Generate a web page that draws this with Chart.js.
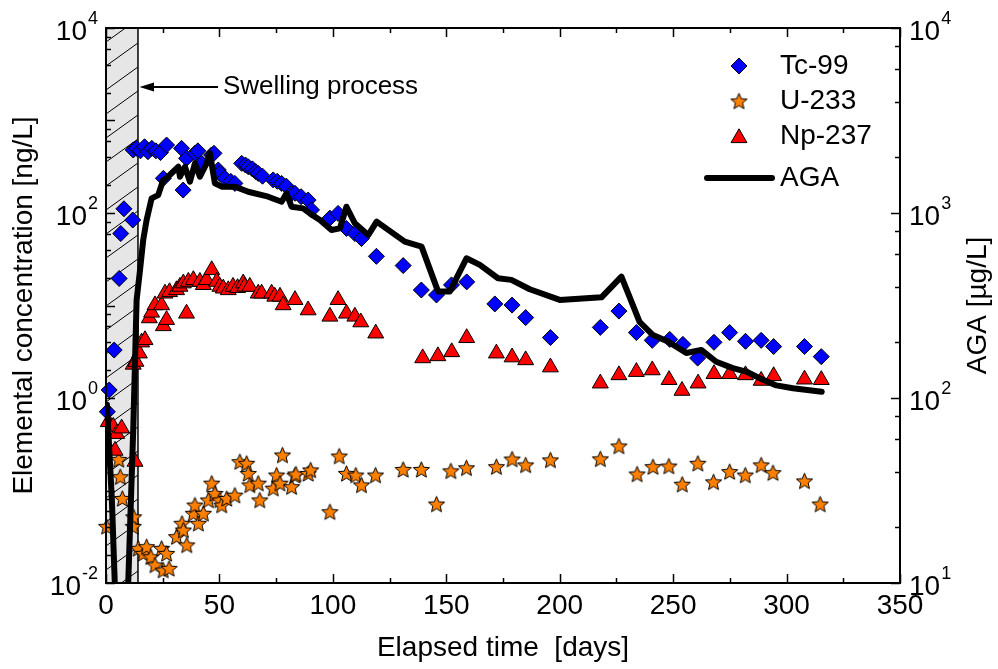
<!DOCTYPE html>
<html><head><meta charset="utf-8">
<script src="https://cdn.jsdelivr.net/npm/chart.js@4.4.1/dist/chart.umd.min.js"></script>
<style>html,body{margin:0;padding:0;background:#fff;}#wrap{width:998px;height:669px;}</style>
</head><body><div id="wrap"><canvas id="c" width="998" height="669"></canvas></div>
<script>
// ---------- data ----------
const tcDays = [0.6,1.4,3.6,5.8,6.5,7.9,11.8,12.0,13.5,15.2,17.0,18.5,20.2,22.0,24.0,25.3,26.7,33.3,34.0,35.5,39.2,40.5,42.2,46.5,47.6,49.5,50.2,52.4,55.0,56.8,59.8,61.5,62.7,64.5,66.0,67.1,69.0,73.7,75.5,77.4,79.5,81.8,83.3,86.0,89.1,90.6,98.7,102.3,106.0,109.7,112.6,119.2,131.0,139.0,145.7,152.3,159.0,171.4,179.0,185.0,195.9,217.9,226.1,233.8,240.8,248.5,254.3,260.8,268.0,274.9,281.9,288.8,294.3,307.9,315.3];
const tcVals = [0.71,1.22,3.3,19.6,60,111,84,480,500,470,520,460,500,470,450,237,543,500,177,390,442,470,344,424,442,292,268,237,220,209,344,330,316,300,280,268,250,228,220,209,195,163,163,150,138,108,88,99,68,60,53,34,27,14.7,13,16.7,18,10.4,10.1,7.4,4.5,5.8,8.7,5.1,4.2,4.3,3.8,2.7,4.0,5.1,4.1,4.2,3.6,3.6,2.8];

const uDays = [0.3,5.6,6.3,7.2,12.0,12.2,14.2,16.4,17.9,19.8,21.6,24.5,25.2,26.7,27.8,31.1,33.5,34.1,35.6,38.5,39.2,40.7,42.9,45.1,46.6,48.0,50.2,51.0,53.2,56.8,59.0,62.0,62.7,63.4,67.1,67.8,73.7,75.2,76.7,77.8,81.8,83.3,83.7,89.1,90.2,98.7,102.8,106.0,110.1,112.6,118.8,131.0,139.0,145.7,152.0,158.9,172.1,179.0,185.0,195.9,217.9,226.1,234.1,241.1,248.1,254.0,260.9,267.8,274.9,281.8,288.8,294.0,307.9,314.8];
const uVals = [0.041,0.217,0.141,0.082,0.041,0.052,0.0237,0.0209,0.0247,0.0192,0.0157,0.0237,0.0138,0.0209,0.0144,0.0317,0.0442,0.0374,0.0258,0.0567,0.0697,0.0442,0.0567,0.079,0.120,0.093,0.079,0.0697,0.082,0.089,0.205,0.197,0.153,0.115,0.120,0.079,0.106,0.147,0.120,0.242,0.110,0.146,0.151,0.153,0.167,0.059,0.236,0.153,0.147,0.115,0.147,0.169,0.169,0.0714,0.163,0.176,0.181,0.219,0.189,0.214,0.22,0.303,0.151,0.181,0.184,0.117,0.197,0.124,0.160,0.147,0.189,0.156,0.127,0.0714];

const npDays = [1.0,3.2,4.0,4.7,6.9,12.0,12.8,13.2,14.7,15.7,17.2,19.1,20.1,21.6,24.5,25.3,26.0,26.7,28.0,31.1,32.6,34.1,35.5,36.3,38.5,41.4,42.9,44.3,46.6,48.8,50.2,51.7,53.9,56.0,58.0,60.5,61.2,63.4,67.1,68.6,73.0,74.4,76.7,78.1,83.3,89.1,98.7,102.3,106.0,109.7,112.3,118.9,139.6,146.3,152.4,159.0,172.1,179.0,185.0,195.9,217.9,226.1,233.8,240.8,248.2,253.9,261.0,268.0,274.9,281.9,288.8,294.3,307.9,315.3];
const npVals = [0.55,0.49,0.27,0.41,0.47,2.3,0.205,2.47,3.04,4.0,4.24,7.3,8.4,10.1,10.1,6.0,13.5,7.0,14,14.7,16,17.4,8.2,18.1,18.9,18.1,16.7,18.9,24.2,18.1,16,15.3,14.7,16,15.5,17.4,16,16,13.5,13.5,13.5,12.5,12.5,10.1,11.5,8.9,7.6,11.5,8.2,7.6,6.6,5.0,2.7,2.84,3.14,4.46,3.04,2.76,2.57,2.15,1.44,1.77,1.92,2.0,1.57,1.2,1.44,1.82,1.82,1.77,1.54,1.73,1.59,1.57];

const agaDays = [0.4,2.6,4.5,8.5,9.8,12.0,13.5,15.0,16.4,17.9,20.1,23.0,25.2,26.7,28.9,30.4,31.9,32.6,34.8,37.0,39.2,41.4,44.4,45.8,48.0,51.0,56.8,62.7,71.5,77.4,79.6,81.8,86.9,89.9,94.3,99.4,103.1,106.0,109.7,115.6,119.3,131.7,139.1,146.4,151.5,158.9,164.8,172.8,178.7,186.8,200.0,218.4,227.2,235.2,241.1,247.7,255.8,262.4,269.0,276.3,282.2,288.1,295.5,302.8,315.5];
const agaVals = [92,28,6,6,10,67,339,492,714,917,1200,1250,1507,1545,1640,1708,1778,1570,1778,1476,1858,1570,1858,2104,1449,1388,1388,1303,1225,1151,1276,1081,1059,995,917,809,826,1081,879,760,898,700,658,376,376,569,524,444,435,387,339,350,453,258,219,202,175,182,157,145,139,128,117,113,108];

const xTickValues = [0,50,100,150,200,250,300,350];
const yLeftLabelExps = [-2,0,2,4];
const yRightLabelExps = [1,2,3,4];
const swellingEndDay = 14.1;
const seriesNames = ['Tc-99','U-233','Np-237','AGA'];
const xTitle = 'Elapsed time  [days]';
const yLeftTitle = 'Elemental concentration [ng/L]';
const yRightTitle = 'AGA [\u00b5g/L]';
const noteText = 'Swelling process';

// ---------- styles ----------
const FONT = '"Liberation Sans", Arial, sans-serif';
const C_TC = '#0000ff', C_U = '#ff8000', C_NP = '#ff0000';

function makeStar(R, fill) {
  const s = Math.ceil(R * 2 + 4);
  const cv = document.createElement('canvas');
  cv.width = s; cv.height = s;
  const g = cv.getContext('2d');
  const cx = s / 2, cy = s / 2 + 0.8, r = R * 0.45;
  g.beginPath();
  for (let i = 0; i < 10; i++) {
    const rad = (i % 2 === 0) ? R : r;
    const a = -Math.PI / 2 + i * Math.PI / 5;
    const px = cx + rad * Math.cos(a), py = cy + rad * Math.sin(a);
    if (i === 0) g.moveTo(px, py); else g.lineTo(px, py);
  }
  g.closePath();
  g.fillStyle = fill; g.fill();
  g.lineWidth = 1; g.strokeStyle = '#000'; g.lineJoin = 'miter'; g.stroke();
  return cv;
}
const starImg = makeStar(8.5, C_U);

const pts = (xs, ys) => xs.map((d, i) => ({x: d, y: ys[i]}));

function drawTen(ctx, exp, x, y, align) {
  const base = '28px ' + FONT, sup = '18px ' + FONT;
  ctx.font = base; const w10 = ctx.measureText('10').width;
  const es = (exp < 0 ? '-' : '') + Math.abs(exp);
  ctx.font = sup; const we = ctx.measureText(es).width;
  let x0 = align === 'right' ? x - w10 - we - 1 : x;
  ctx.textAlign = 'left'; ctx.textBaseline = 'middle';
  ctx.font = base; ctx.fillText('10', x0, y + 4);
  ctx.font = sup; ctx.fillText(es, x0 + w10 + 1, y - 9);
}

const decor = {
  id: 'decor',
  beforeDatasetsDraw(chart) {
    const {ctx, chartArea: a, scales} = chart;
    const x0 = scales.x.getPixelForValue(0), x1 = scales.x.getPixelForValue(swellingEndDay);
    ctx.save();
    ctx.fillStyle = '#e6e6e6';
    ctx.fillRect(x0, a.top, x1 - x0, a.bottom - a.top);
    ctx.beginPath(); ctx.rect(x0, a.top, x1 - x0, a.bottom - a.top); ctx.clip();
    ctx.strokeStyle = '#000'; ctx.lineWidth = 1;
    const w = x1 - x0, rise = w * 0.72;
    for (let y = a.top - 10; y < a.bottom + rise + 30; y += 24) {
      ctx.beginPath(); ctx.moveTo(x0, y); ctx.lineTo(x1, y - rise); ctx.stroke();
    }
    ctx.restore();
    ctx.save();
    ctx.strokeStyle = '#000'; ctx.lineWidth = 1.5;
    ctx.beginPath(); ctx.moveTo(x1, a.top); ctx.lineTo(x1, a.bottom); ctx.stroke();
    ctx.restore();
  },
  afterDatasetsDraw(chart) {
    const {ctx, chartArea: a, scales} = chart;
    const sx = scales.x, yl = scales.yL, yr = scales.yR;
    ctx.save();
    ctx.strokeStyle = '#000'; ctx.fillStyle = '#000';
    ctx.lineWidth = 2;
    ctx.strokeRect(a.left, a.top, a.right - a.left, a.bottom - a.top);
    ctx.lineWidth = 1.5;
    for (let v = 0; v <= 350; v += 25) {
      const px = Math.round(sx.getPixelForValue(v)) + 0.5;
      const L = (v % 50 === 0) ? 9 : 5;
      ctx.beginPath();
      ctx.moveTo(px, a.bottom); ctx.lineTo(px, a.bottom - L);
      ctx.moveTo(px, a.top); ctx.lineTo(px, a.top + L);
      ctx.stroke();
    }
    function yTicks(scale, eFrom, eTo, xEdge, dir) {
      for (let e = eFrom; e <= eTo; e++) {
        for (const k of [1, 2, 4, 6, 8]) {
          if (e === eTo && k > 1) continue;
          const py = Math.round(scale.getPixelForValue(k * Math.pow(10, e))) + 0.5;
          const L = k === 1 ? 9 : 5;
          ctx.beginPath(); ctx.moveTo(xEdge, py); ctx.lineTo(xEdge + dir * L, py); ctx.stroke();
        }
      }
    }
    yTicks(yl, -2, 4, a.left, 1);
    yTicks(yr, 1, 4, a.right, -1);
    ctx.font = '28px ' + FONT; ctx.textAlign = 'center'; ctx.textBaseline = 'middle';
    for (const v of xTickValues) ctx.fillText(String(v), sx.getPixelForValue(v), a.bottom + 23);
    for (const e of yLeftLabelExps) drawTen(ctx, e, a.left - 8, yl.getPixelForValue(Math.pow(10, e)), 'right');
    for (const e of yRightLabelExps) drawTen(ctx, e, a.right + 9, yr.getPixelForValue(Math.pow(10, e)), 'left');
    ctx.font = '28px ' + FONT; ctx.textAlign = 'center'; ctx.textBaseline = 'middle';
    ctx.fillText(xTitle, (a.left + a.right) / 2, 648);
    const cy = (a.top + a.bottom) / 2;
    ctx.save(); ctx.translate(24, cy); ctx.rotate(-Math.PI / 2); ctx.fillText(yLeftTitle, 0, 0); ctx.restore();
    ctx.save(); ctx.translate(978, cy); ctx.rotate(-Math.PI / 2); ctx.fillText(yRightTitle, 0, 0); ctx.restore();
    const xe = sx.getPixelForValue(swellingEndDay);
    const ay = 87;
    ctx.lineWidth = 2;
    ctx.beginPath(); ctx.moveTo(xe + 12, ay); ctx.lineTo(218, ay); ctx.stroke();
    ctx.beginPath(); ctx.moveTo(xe + 1.5, ay); ctx.lineTo(xe + 16, ay - 4.5); ctx.lineTo(xe + 16, ay + 4.5); ctx.closePath(); ctx.fill();
    ctx.font = '26px ' + FONT; ctx.textAlign = 'left'; ctx.textBaseline = 'middle';
    ctx.fillText(noteText, 223, ay);
    const lx = 739, tx = 780, rows = [66, 101, 136, 178];
    ctx.lineWidth = 1;
    ctx.beginPath(); ctx.moveTo(lx - 8, rows[0]); ctx.lineTo(lx, rows[0] - 8); ctx.lineTo(lx + 8, rows[0]); ctx.lineTo(lx, rows[0] + 8); ctx.closePath();
    ctx.fillStyle = C_TC; ctx.fill(); ctx.stroke();
    ctx.drawImage(starImg, lx - starImg.width / 2, rows[1] - starImg.height / 2);
    const tr = 9.2;
    ctx.beginPath();
    for (let i = 0; i < 3; i++) {
      const ang = -Math.PI / 2 + i * 2 * Math.PI / 3;
      const px = lx + tr * Math.cos(ang), py = rows[2] + 2 + tr * Math.sin(ang);
      if (i === 0) ctx.moveTo(px, py); else ctx.lineTo(px, py);
    }
    ctx.closePath(); ctx.fillStyle = C_NP; ctx.fill(); ctx.stroke();
    ctx.lineWidth = 6; ctx.lineCap = 'round';
    ctx.beginPath(); ctx.moveTo(707, rows[3]); ctx.lineTo(772, rows[3]); ctx.stroke();
    ctx.fillStyle = '#000'; ctx.font = '28px ' + FONT; ctx.textAlign = 'left'; ctx.textBaseline = 'middle';
    seriesNames.forEach((n, i) => ctx.fillText(n, tx, rows[i]));
    ctx.restore();
  }
};

new Chart(document.getElementById('c'), {
  type: 'scatter',
  data: {
    datasets: [
      {label: seriesNames[3], data: pts(agaDays, agaVals), yAxisID: 'yR', showLine: true,
       borderColor: '#000', borderWidth: 6, pointRadius: 0, tension: 0, clip: 0, order: 0,
       borderJoinStyle: 'round', borderCapStyle: 'round'},
      {label: seriesNames[0], data: pts(tcDays, tcVals), yAxisID: 'yL', pointStyle: 'rectRot',
       pointRadius: 8, backgroundColor: C_TC, borderColor: '#000', borderWidth: 1, clip: false, order: 3},
      {label: seriesNames[1], data: pts(uDays, uVals), yAxisID: 'yL', pointStyle: starImg,
       pointRadius: 8, backgroundColor: C_U, borderColor: '#000', borderWidth: 1, clip: false, order: 2},
      {label: seriesNames[2], data: pts(npDays, npVals), yAxisID: 'yL', pointStyle: 'triangle',
       pointRadius: 9.2, backgroundColor: C_NP, borderColor: '#000', borderWidth: 1, clip: false, order: 1}
    ]
  },
  options: {
    responsive: false, animation: false, devicePixelRatio: 1,
    layout: {padding: {left: 106, right: 98, top: 28, bottom: 86}},
    plugins: {legend: {display: false}, tooltip: {enabled: false}},
    events: [],
    scales: {
      x: {type: 'linear', min: 0, max: 350, display: false},
      yL: {type: 'logarithmic', position: 'left', min: 0.01, max: 10000, display: false},
      yR: {type: 'logarithmic', position: 'right', min: 10, max: 10000, display: false}
    }
  },
  plugins: [decor]
});
</script></body></html>
